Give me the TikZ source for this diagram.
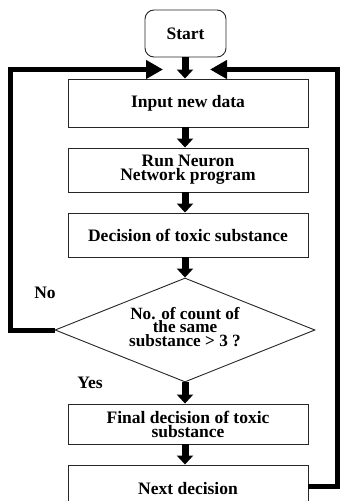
\documentclass[tikz,border=0pt]{standalone}
\usepackage{fontspec}
\setmainfont{Liberation Serif}
\usetikzlibrary{arrows.meta,shapes.geometric}
\begin{document}
\begin{tikzpicture}[x=1pt,y=-1pt,
  txt/.style={font=\fontsize{17.5}{14}\selectfont\bfseries, align=center},
  box/.style={txt, draw=black!85, line width=0.9pt, fill=white, rectangle,
    minimum width=240pt, inner sep=0pt},
  startbox/.style={box, rounded corners=9pt, minimum width=81pt, minimum height=47pt},
  decbox/.style={draw=black!85, line width=0.9pt, fill=white, shape=diamond,
    aspect=2.5, inner sep=0pt, minimum width=260pt, minimum height=104pt},
  varrow/.style={line width=7pt, -{Triangle[width=16pt,length=9pt]}},
  loopline/.style={line width=5pt, -{Triangle[width=18pt,length=17pt]}},
  lbl/.style={txt, inner sep=0pt}
]
\useasboundingbox (0,0) rectangle (342,501);

\node[startbox] (start) at (185.5,33.5) {Start};
\node[box, minimum height=48pt] (input) at (188,103) {Input new data};
\node[box, minimum height=44pt] (run) at (188,170) {Run Neuron\\Network program};
\node[box, minimum height=44pt] (dect) at (188,235) {Decision of toxic substance};
\node[decbox] (dec) at (185,330) {};
\node[lbl, font=\fontsize{17.2}{13.3}\selectfont\bfseries] (dectxt) at (185,327) {No. of count of\\the same\\substance > 3 ?};
\node[box, minimum height=40pt] (final) at (188,424) {Final decision of toxic\\substance};
\node[box, minimum height=48pt] (next) at (188,489) {Next decision};

\coordinate (tipL) at (163,69.5);
\coordinate (tipR) at (210,69.5);

\node[lbl] (no) at (45,293) {No};
\node[lbl] (yes) at (90,383) {Yes};

\draw[varrow] (start.south -| 185,0) -- (input.north -| 185,0);
\draw[varrow] (input.south -| 185,0) -- (run.north -| 185,0);
\draw[varrow] (run.south -| 185,0) -- (dect.north -| 185,0);
\draw[varrow] (dect.south -| 185,0) -- (dec.north);
\draw[varrow] (dec.south) -- (final.north -| 185,0);
\draw[varrow] (final.south -| 185,0) -- (next.north -| 185,0);

\draw[loopline] (dec.west) -- (10,330) |- (tipL);
\draw[loopline] ([yshift=3pt]next.east) -| (337.5,69.5) -- (tipR);
\end{tikzpicture}
\end{document}
